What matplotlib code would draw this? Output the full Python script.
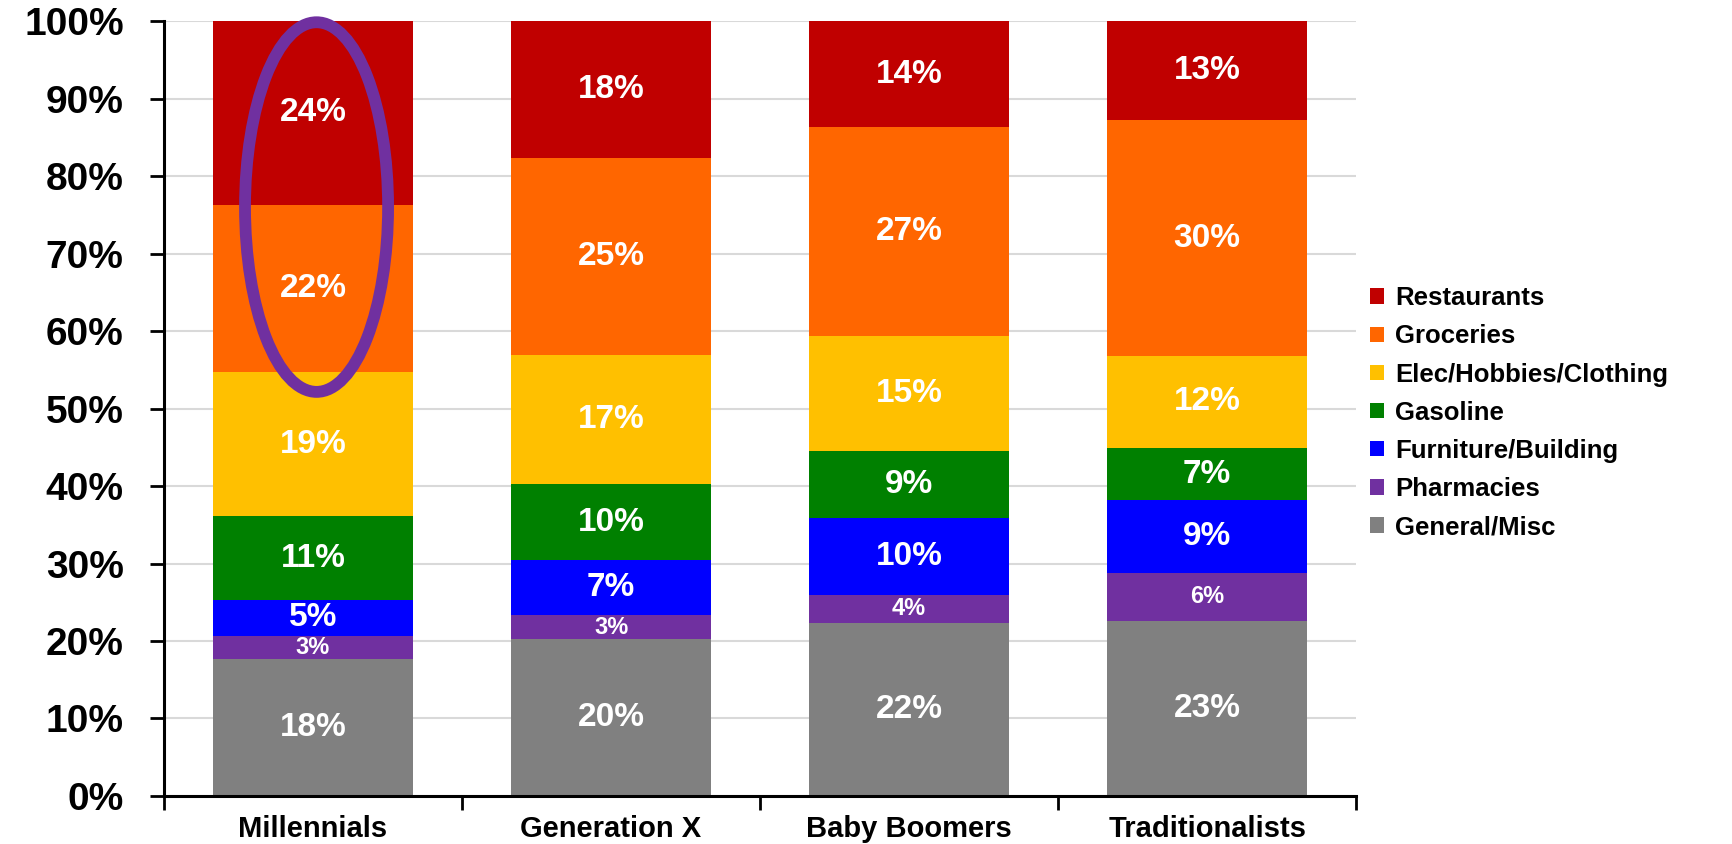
import numpy as np
import matplotlib
matplotlib.use('Agg')
import matplotlib.pyplot as plt
from matplotlib.patches import Ellipse

plt.rcParams['font.family'] = ['Liberation Sans', 'DejaVu Sans']
plt.rcParams['font.weight'] = 'bold'

generations = ['Millennials', 'Generation X', 'Baby Boomers', 'Traditionalists']

# shares in %, bottom to top
general_misc = [17.7, 20.3, 22.3, 22.6]
pharmacies = [3.0, 3.0, 3.7, 6.2]
furniture = [4.6, 7.1, 9.9, 9.4]
gasoline = [10.8, 9.8, 8.6, 6.7]
elec_hobbies = [18.6, 16.7, 14.8, 11.9]
groceries = [21.6, 25.4, 27.0, 30.4]
restaurants = [23.7, 17.7, 13.7, 12.8]

series = [
    ('General/Misc', general_misc, '#808080'),
    ('Pharmacies', pharmacies, '#7030A0'),
    ('Furniture/Building', furniture, '#0000FF'),
    ('Gasoline', gasoline, '#008000'),
    ('Elec/Hobbies/Clothing', elec_hobbies, '#FFC000'),
    ('Groceries', groceries, '#FF6600'),
    ('Restaurants', restaurants, '#C00000'),
]

fig = plt.figure(figsize=(17.33, 8.44), dpi=100)
ax = fig.add_axes([0.0946, 0.0569, 0.688, 0.9181])

x = np.arange(len(generations))
bottom = np.zeros(len(generations))
handles = []
for name, vals, color in series:
    vals = np.array(vals) / 100.0
    b = ax.bar(x, vals, 0.67, bottom=bottom, color=color, label=name, zorder=2)
    handles.append(b)
    # pharmacy labels are printed smaller
    fs = 17 if name == 'Pharmacies' else 24
    for xi, v, b0 in zip(x, vals, bottom):
        ax.text(xi, b0 + v / 2, f"{round(v * 100):.0f}%", ha='center', va='center',
                color='white', fontsize=fs, fontweight='bold', zorder=3)
    bottom += vals

# highlight ellipse on Millennials
ell = Ellipse((0.012, 0.76), 0.48, 0.477, fill=False, edgecolor='#7030A0',
              linewidth=8.5, zorder=4, clip_on=False)
ax.add_patch(ell)

ax.set_xlim(-0.5, 3.5)
ax.set_ylim(0, 1.0)
ax.set_yticks(np.arange(0, 1.01, 0.1))
ax.set_yticklabels([f"{int(round(t * 100))}%" for t in np.arange(0, 1.01, 0.1)],
                   fontsize=28, fontweight='bold')
ax.yaxis.grid(True, color='#d9d9d9', linewidth=1.5, zorder=0)
ax.set_axisbelow(True)

ax.set_xticks(x)
ax.set_xticklabels(generations, fontsize=21, fontweight='bold')
ax.set_xticks(np.arange(-0.5, 3.6, 1.0), minor=True)
ax.tick_params(axis='x', which='major', length=0, pad=14)
ax.tick_params(axis='x', which='minor', length=10, width=2, direction='out')
ax.tick_params(axis='y', length=10, width=2, direction='out', pad=19)

for s in ['top', 'right']:
    ax.spines[s].set_visible(False)
for s in ['left', 'bottom']:
    ax.spines[s].set_linewidth(2.2)

leg = fig.legend(handles[::-1], [s[0] for s in series][::-1], loc='center left',
                 bbox_to_anchor=(0.777, 0.511), frameon=False, fontsize=18.5,
                 handlelength=0.55, handleheight=0.55, handletextpad=0.45,
                 labelspacing=0.55)
for t in leg.get_texts():
    t.set_fontweight('bold')

fig.savefig('out.png', dpi=100)
